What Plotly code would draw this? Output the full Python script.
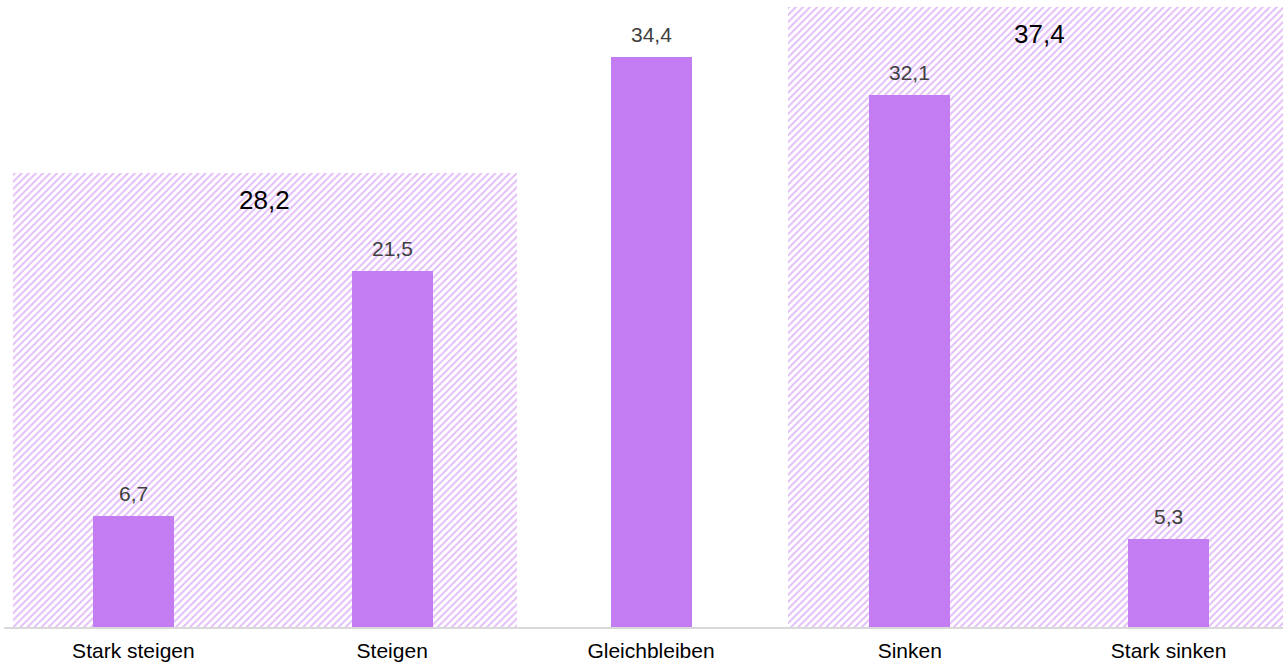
import plotly.graph_objects as go

categories = ["Stark steigen", "Steigen", "Gleichbleiben", "Sinken", "Stark sinken"]
values = [6.7, 21.5, 34.4, 32.1, 5.3]
value_labels = ["6,7", "21,5", "34,4", "32,1", "5,3"]

group_centers = [0.508, 3.5]
group_heights = [27.4, 37.4]
group_labels = ["28,2", "37,4"]

BAR = "#C47CF2"
FONT = "Liberation Sans, Arial, sans-serif"

x_pos = list(range(len(categories)))

fig = go.Figure()

fig.add_trace(go.Bar(
    x=group_centers, y=group_heights, width=[1.948, 1.944],
    marker=dict(color="white", line=dict(width=0),
                pattern=dict(shape="/", fgcolor=BAR, bgcolor="white",
                             size=5, solidity=0.4)),
    hoverinfo="skip", showlegend=False,
))

fig.add_trace(go.Bar(
    x=x_pos, y=values, width=0.313,
    marker=dict(color=BAR, line=dict(width=0)),
    showlegend=False,
))

for xi, v, t in zip(x_pos, values, value_labels):
    fig.add_annotation(x=xi, y=v, text=t, showarrow=False, yanchor="bottom",
                       yshift=9, font=dict(family=FONT, size=21, color="#404040"))

for xc, h, t in zip(group_centers, group_heights, group_labels):
    fig.add_annotation(x=xc, y=h, text=t, showarrow=False, yanchor="top",
                       yshift=-10, font=dict(family=FONT, size=26, color="#000000"))

fig.update_layout(
    width=1283, height=664,
    margin=dict(l=4, r=0, t=0, b=37),
    paper_bgcolor="white", plot_bgcolor="white",
    barmode="overlay", bargap=0,
    font=dict(family=FONT, size=21, color="#000000"),
    xaxis=dict(range=[-0.5, 4.442], tickmode="array", tickvals=x_pos,
               ticktext=categories, showgrid=False, zeroline=False,
               showline=True, linecolor="#D9D9D9", linewidth=2, ticks="",
               ticklabelstandoff=4,
               tickfont=dict(family=FONT, size=21, color="#000000")),
    yaxis=dict(range=[0, 37.84], visible=False, showgrid=False),
)

fig.write_html(
    "out.html",
    config={"displayModeBar": False},
    post_script="document.body.style.margin='0';document.body.style.overflow='hidden';",
)
